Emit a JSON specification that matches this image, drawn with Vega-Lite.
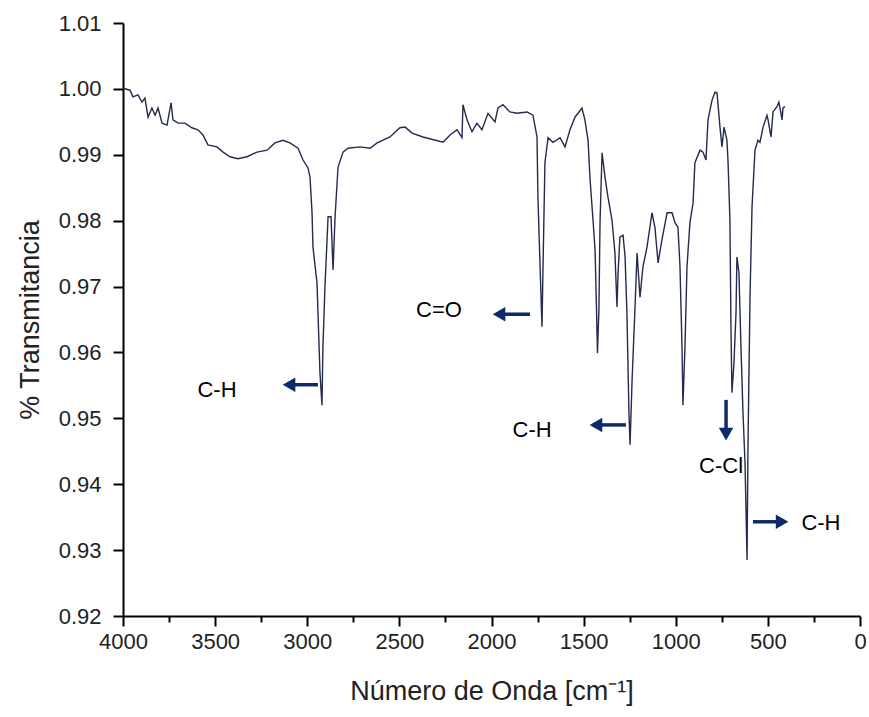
{
  "$schema": "https://vega.github.io/schema/vega-lite/v6.json",
  "autosize": "none",
  "width": 737,
  "height": 593,
  "padding": {"left": 123, "top": 23, "right": 9, "bottom": 101},
  "background": "white",
  "config": {
    "view": {"stroke": null},
    "font": "Liberation Sans",
    "axis": {"grid": false, "domainColor": "black", "domainWidth": 2, "tickColor": "black", "tickWidth": 2, "labelColor": "#222", "labelFont": "Liberation Sans", "labelFontSize": 22, "labelFlush": false, "titleFont": "Liberation Sans", "titleFontWeight": "normal", "titleFontSize": 27, "titleColor": "#222"}
  },
  "datasets": {
    "spectrum": [
      {"w":4000,"t":1.0001},{"w":3962,"t":0.9998},{"w":3946,"t":0.9988},{"w":3919,"t":0.9991},{"w":3897,"t":0.998},{"w":3881,"t":0.9986},{"w":3864,"t":0.9957},{"w":3843,"t":0.9971},{"w":3826,"t":0.996},{"w":3810,"t":0.9971},{"w":3788,"t":0.9948},{"w":3761,"t":0.9945},{"w":3739,"t":0.9979},{"w":3729,"t":0.9953},{"w":3701,"t":0.9948},{"w":3664,"t":0.9948},{"w":3626,"t":0.9941},{"w":3593,"t":0.9938},{"w":3566,"t":0.993},{"w":3539,"t":0.9915},{"w":3490,"t":0.9912},{"w":3457,"t":0.9904},{"w":3419,"t":0.9897},{"w":3376,"t":0.9894},{"w":3327,"t":0.9897},{"w":3273,"t":0.9904},{"w":3218,"t":0.9907},{"w":3175,"t":0.9918},{"w":3132,"t":0.9922},{"w":3094,"t":0.9918},{"w":3050,"t":0.991},{"w":3023,"t":0.9892},{"w":2996,"t":0.988},{"w":2985,"t":0.9866},{"w":2974,"t":0.9812},{"w":2969,"t":0.976},{"w":2947,"t":0.9705},{"w":2931,"t":0.9569},{"w":2920,"t":0.952},{"w":2915,"t":0.9608},{"w":2904,"t":0.9699},{"w":2887,"t":0.9806},{"w":2871,"t":0.9806},{"w":2860,"t":0.9725},{"w":2849,"t":0.9806},{"w":2833,"t":0.9881},{"w":2806,"t":0.9904},{"w":2779,"t":0.991},{"w":2714,"t":0.9912},{"w":2659,"t":0.991},{"w":2621,"t":0.9918},{"w":2551,"t":0.9927},{"w":2497,"t":0.9941},{"w":2469,"t":0.9942},{"w":2431,"t":0.9933},{"w":2372,"t":0.9927},{"w":2263,"t":0.9919},{"w":2225,"t":0.993},{"w":2187,"t":0.9938},{"w":2160,"t":0.9926},{"w":2155,"t":0.9976},{"w":2133,"t":0.9953},{"w":2106,"t":0.9935},{"w":2079,"t":0.9948},{"w":2052,"t":0.9938},{"w":2019,"t":0.9963},{"w":1981,"t":0.995},{"w":1965,"t":0.9971},{"w":1938,"t":0.9976},{"w":1900,"t":0.9965},{"w":1862,"t":0.9963},{"w":1807,"t":0.9965},{"w":1775,"t":0.996},{"w":1753,"t":0.9927},{"w":1748,"t":0.9836},{"w":1737,"t":0.9736},{"w":1726,"t":0.9639},{"w":1720,"t":0.9736},{"w":1710,"t":0.9888},{"w":1693,"t":0.9926},{"w":1666,"t":0.9919},{"w":1628,"t":0.9926},{"w":1601,"t":0.9912},{"w":1574,"t":0.9938},{"w":1547,"t":0.9957},{"w":1509,"t":0.9971},{"w":1493,"t":0.9953},{"w":1476,"t":0.9922},{"w":1465,"t":0.9862},{"w":1449,"t":0.9801},{"w":1438,"t":0.9756},{"w":1430,"t":0.9665},{"w":1425,"t":0.9599},{"w":1417,"t":0.9665},{"w":1411,"t":0.9797},{"w":1400,"t":0.9903},{"w":1384,"t":0.9866},{"w":1368,"t":0.9836},{"w":1346,"t":0.9801},{"w":1330,"t":0.9751},{"w":1319,"t":0.9669},{"w":1313,"t":0.9721},{"w":1303,"t":0.9775},{"w":1286,"t":0.9778},{"w":1275,"t":0.9745},{"w":1265,"t":0.966},{"w":1254,"t":0.9508},{"w":1248,"t":0.946},{"w":1237,"t":0.9558},{"w":1221,"t":0.9669},{"w":1210,"t":0.9751},{"w":1205,"t":0.973},{"w":1194,"t":0.9684},{"w":1178,"t":0.973},{"w":1156,"t":0.976},{"w":1129,"t":0.9812},{"w":1113,"t":0.979},{"w":1096,"t":0.9736},{"w":1075,"t":0.9771},{"w":1047,"t":0.9812},{"w":1020,"t":0.9812},{"w":1004,"t":0.9797},{"w":988,"t":0.979},{"w":977,"t":0.973},{"w":966,"t":0.9608},{"w":961,"t":0.952},{"w":950,"t":0.9608},{"w":939,"t":0.973},{"w":923,"t":0.9797},{"w":906,"t":0.9827},{"w":896,"t":0.9888},{"w":868,"t":0.9907},{"w":852,"t":0.9904},{"w":836,"t":0.9892},{"w":825,"t":0.9953},{"w":803,"t":0.9983},{"w":787,"t":0.9995},{"w":776,"t":0.9994},{"w":760,"t":0.9942},{"w":749,"t":0.9912},{"w":738,"t":0.9942},{"w":722,"t":0.9922},{"w":716,"t":0.9888},{"w":706,"t":0.9801},{"w":700,"t":0.963},{"w":695,"t":0.9539},{"w":684,"t":0.9584},{"w":673,"t":0.966},{"w":668,"t":0.9745},{"w":657,"t":0.9721},{"w":646,"t":0.9608},{"w":635,"t":0.9508},{"w":624,"t":0.9432},{"w":613,"t":0.9285},{"w":608,"t":0.9457},{"w":597,"t":0.9684},{"w":586,"t":0.9821},{"w":570,"t":0.9907},{"w":554,"t":0.9922},{"w":543,"t":0.9919},{"w":526,"t":0.9942},{"w":505,"t":0.996},{"w":499,"t":0.9953},{"w":483,"t":0.9927},{"w":472,"t":0.9965},{"w":451,"t":0.9973},{"w":440,"t":0.998},{"w":423,"t":0.9953},{"w":418,"t":0.9971},{"w":407,"t":0.9973}
    ],
    "labels": [
      {"w":3490,"t":0.9543,"text":"C-H"},
      {"w":2285,"t":0.9664,"text":"C=O"},
      {"w":1780,"t":0.9482,"text":"C-H"},
      {"w":754,"t":0.9428,"text":"C-Cl"},
      {"w":212,"t":0.9341,"text":"C-H"}
    ],
    "arrows": [
      {"x1":3099,"x2":2942,"y1":0.9551,"y2":0.9551,"hx":3099,"hy":0.9551,"shape":"triangle-left"},
      {"x1":1959,"x2":1791,"y1":0.9658,"y2":0.9658,"hx":1959,"hy":0.9658,"shape":"triangle-left"},
      {"x1":1433,"x2":1270,"y1":0.949,"y2":0.949,"hx":1433,"hy":0.949,"shape":"triangle-left"},
      {"x1":727,"x2":727,"y1":0.9528,"y2":0.9476,"hx":727,"hy":0.9476,"shape":"triangle-down"},
      {"x1":581,"x2":423,"y1":0.9343,"y2":0.9343,"hx":423,"hy":0.9343,"shape":"triangle-right"}
    ]
  },
  "layer": [
    {
      "data": {"name": "spectrum"},
      "mark": {"type": "line", "color": "#262a4e", "strokeWidth": 1.4, "interpolate": "linear"},
      "encoding": {
        "x": {"field": "w", "type": "quantitative",
          "scale": {"domain": [0, 4000], "reverse": true, "nice": false},
          "axis": {
            "title": "Número de Onda [cm⁻¹]",
            "values": [0,250,500,750,1000,1250,1500,1750,2000,2250,2500,2750,3000,3250,3500,3750,4000],
            "labelExpr": "datum.value % 500 === 0 ? format(datum.value, 'd') : ''",
            "tickSize": {"condition": {"test": "datum.value % 500 !== 0", "value": 6}, "value": 10},
            "labelPadding": 5,
            "titlePadding": 26
          }},
        "y": {"field": "t", "type": "quantitative",
          "scale": {"domain": [0.92, 1.01], "nice": false, "zero": false},
          "axis": {
            "title": "% Transmitancia",
            "values": [0.92,0.925,0.93,0.935,0.94,0.945,0.95,0.955,0.96,0.965,0.97,0.975,0.98,0.985,0.99,0.995,1.0,1.005,1.01],
            "labelExpr": "round(datum.value*1000) % 10 === 0 ? format(datum.value, '.2f') : ''",
            "tickSize": {"condition": {"test": "round(datum.value*1000) % 10 !== 0", "value": 6}, "value": 10},
            "labelPadding": 12,
            "titlePadding": 14
          }}
      }
    },
    {
      "data": {"name": "arrows"},
      "mark": {"type": "rule", "color": "#0d2a6b", "strokeWidth": 3.5},
      "encoding": {
        "x": {"field": "x1", "type": "quantitative"},
        "x2": {"field": "x2"},
        "y": {"field": "y1", "type": "quantitative"},
        "y2": {"field": "y2"}
      }
    },
    {
      "data": {"name": "arrows"},
      "mark": {"type": "point", "filled": true, "color": "#0d2a6b", "opacity": 1, "size": 210},
      "encoding": {
        "x": {"field": "hx", "type": "quantitative"},
        "y": {"field": "hy", "type": "quantitative"},
        "shape": {"field": "shape", "type": "nominal", "scale": null}
      }
    },
    {
      "data": {"name": "labels"},
      "mark": {"type": "text", "font": "Liberation Sans", "fontSize": 22, "color": "black", "align": "center", "baseline": "middle"},
      "encoding": {
        "x": {"field": "w", "type": "quantitative"},
        "y": {"field": "t", "type": "quantitative"},
        "text": {"field": "text"}
      }
    }
  ]
}
